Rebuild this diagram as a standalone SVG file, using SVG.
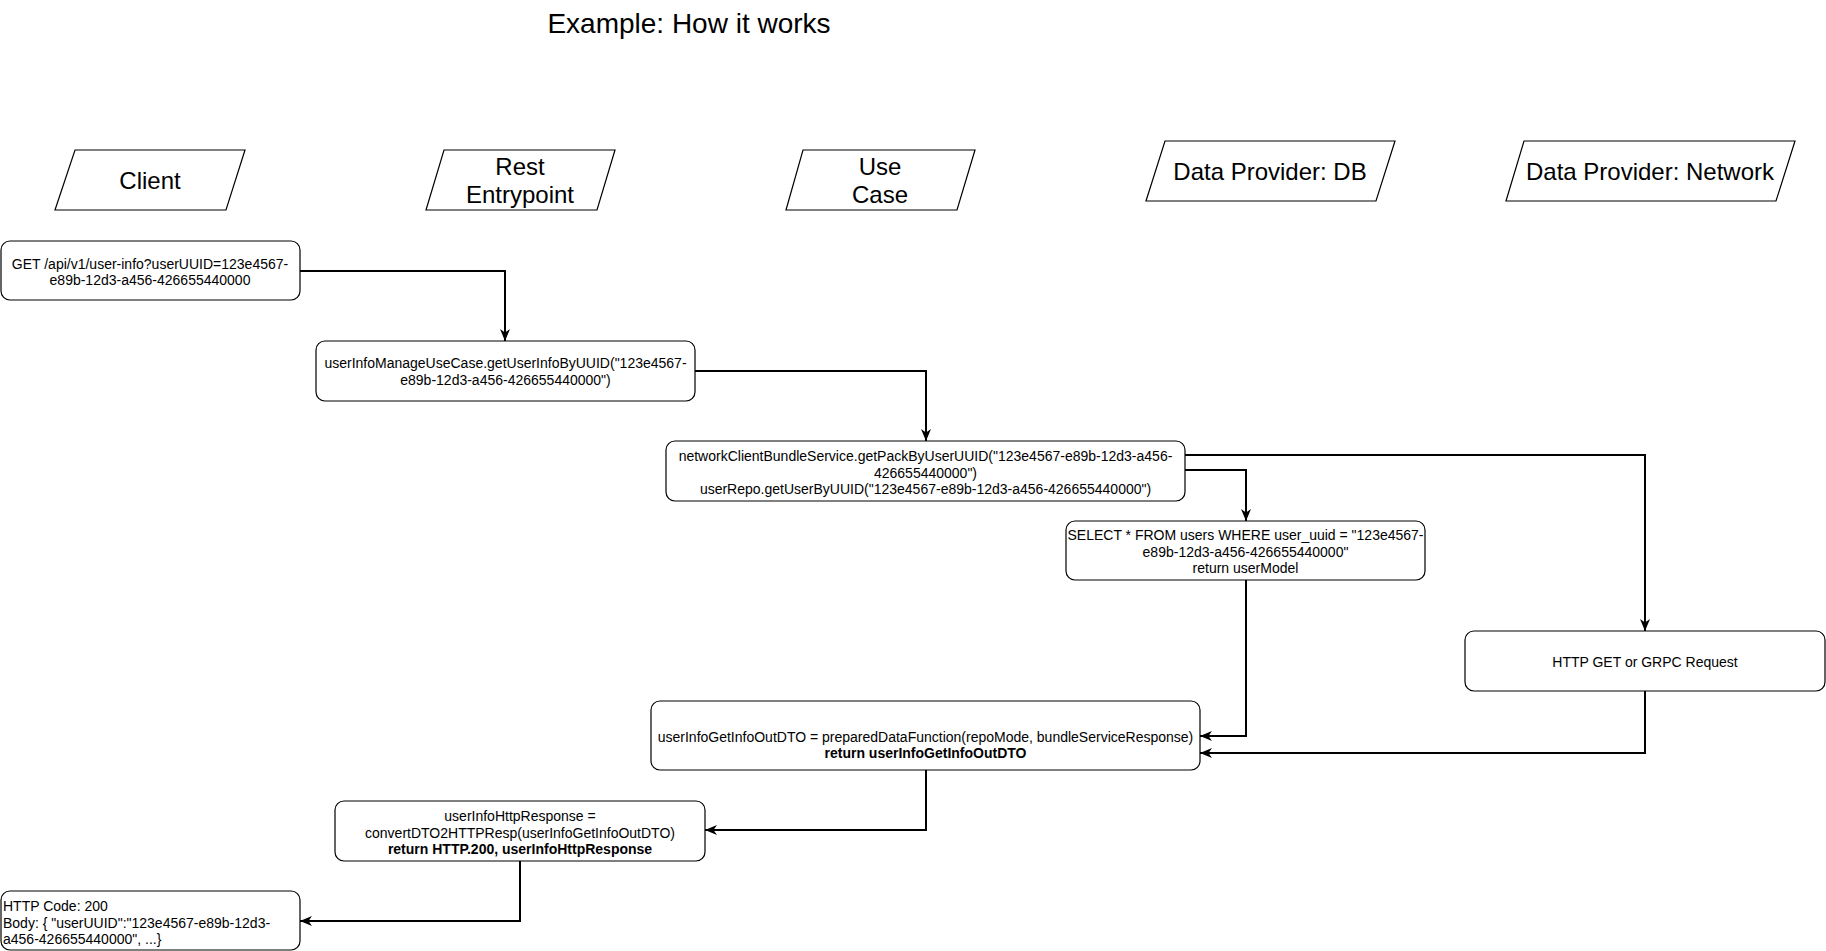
<svg xmlns="http://www.w3.org/2000/svg" width="1826" height="951" viewBox="0 0 1826 951">
  <style>
    .lane { fill: #ffffff; stroke: #000000; stroke-width: 1.2; }
    .box { fill: #ffffff; stroke: #000000; stroke-width: 1.2; }
    .lane-text { font-family: "Liberation Sans", Arial, Helvetica, sans-serif; font-size: 24px; fill: #000000; text-anchor: middle; }
    .t { font-family: "Liberation Sans", Arial, Helvetica, sans-serif; font-size: 14px; fill: #000000; text-anchor: middle; }
    .tl { font-family: "Liberation Sans", Arial, Helvetica, sans-serif; font-size: 14px; fill: #000000; text-anchor: start; }
    .b { font-weight: bold; }
    .title { font-family: "Liberation Sans", Arial, Helvetica, sans-serif; font-size: 28px; fill: #000000; text-anchor: middle; }
    .edge { fill: none; stroke: #000000; stroke-width: 2; }
  </style>
  <defs>
    <marker id="arrow" viewBox="0 0 12 10" refX="12" refY="5" markerWidth="12" markerHeight="10" markerUnits="userSpaceOnUse" orient="auto">
      <path d="M0,0 L12,5 L0,10 L3.5,5 Z" fill="#000000"/>
    </marker>
  </defs>

  <rect width="1826" height="951" fill="#ffffff"/>

  <text class="title" x="689" y="33">Example: How it works</text>

  <!-- Lane headers -->
  <g id="lane-client">
    <polygon class="lane" points="75,150 245,150 226,210 55,210"/>
    <text class="lane-text" x="150" y="189">Client</text>
  </g>
  <g id="lane-rest">
    <polygon class="lane" points="444,150 615,150 597,210 426,210"/>
    <text class="lane-text" x="520" y="175">Rest</text>
    <text class="lane-text" x="520" y="203">Entrypoint</text>
  </g>
  <g id="lane-usecase">
    <polygon class="lane" points="803,150 975,150 957,210 786,210"/>
    <text class="lane-text" x="880" y="175">Use</text>
    <text class="lane-text" x="880" y="203">Case</text>
  </g>
  <g id="lane-db">
    <polygon class="lane" points="1165,141 1395,141 1376,201 1146,201"/>
    <text class="lane-text" x="1270" y="180">Data Provider: DB</text>
  </g>
  <g id="lane-network">
    <polygon class="lane" points="1524,141 1795,141 1776,201 1506,201"/>
    <text class="lane-text" x="1650" y="180">Data Provider: Network</text>
  </g>

  <!-- Steps -->
  <g id="step-request">
    <rect class="box" x="1" y="241" width="299" height="59" rx="9" ry="9"/>
    <text class="t" x="150" y="268.5">GET /api/v1/user-info?userUUID=123e4567-</text>
    <text class="t" x="150" y="285">e89b-12d3-a456-426655440000</text>
  </g>
  <g id="step-usecase-call">
    <rect class="box" x="316" y="341" width="379" height="60" rx="9" ry="9"/>
    <text class="t" x="505.5" y="368">userInfoManageUseCase.getUserInfoByUUID("123e4567-</text>
    <text class="t" x="505.5" y="384.5">e89b-12d3-a456-426655440000")</text>
  </g>
  <g id="step-fetch">
    <rect class="box" x="666" y="441" width="519" height="60" rx="9" ry="9"/>
    <text class="t" x="925.5" y="461">networkClientBundleService.getPackByUserUUID("123e4567-e89b-12d3-a456-</text>
    <text class="t" x="925.5" y="477.5">426655440000")</text>
    <text class="t" x="925.5" y="494">userRepo.getUserByUUID("123e4567-e89b-12d3-a456-426655440000")</text>
  </g>
  <g id="step-db-query">
    <rect class="box" x="1066" y="521" width="359" height="59" rx="9" ry="9"/>
    <text class="t" x="1245.5" y="540">SELECT * FROM users WHERE user_uuid = "123e4567-</text>
    <text class="t" x="1245.5" y="556.5">e89b-12d3-a456-426655440000"</text>
    <text class="t" x="1245.5" y="573">return userModel</text>
  </g>
  <g id="step-network-request">
    <rect class="box" x="1465" y="631" width="360" height="60" rx="9" ry="9"/>
    <text class="t" x="1645" y="666.5">HTTP GET or GRPC Request</text>
  </g>
  <g id="step-prepare-dto">
    <rect class="box" x="651" y="701" width="549" height="69" rx="9" ry="9"/>
    <text class="t" x="925.5" y="741.5">userInfoGetInfoOutDTO = preparedDataFunction(repoMode, bundleServiceResponse)</text>
    <text class="t b" x="925.5" y="758">return userInfoGetInfoOutDTO</text>
  </g>
  <g id="step-http-response">
    <rect class="box" x="335" y="801" width="370" height="60" rx="9" ry="9"/>
    <text class="t" x="520" y="821">userInfoHttpResponse =</text>
    <text class="t" x="520" y="837.5">convertDTO2HTTPResp(userInfoGetInfoOutDTO)</text>
    <text class="t b" x="520" y="854">return HTTP.200, userInfoHttpResponse</text>
  </g>
  <g id="step-client-result">
    <rect class="box" x="1" y="891" width="299" height="59" rx="9" ry="9"/>
    <text class="tl" x="3" y="911">HTTP Code: 200</text>
    <text class="tl" x="3" y="927.5">Body: { "userUUID":"123e4567-e89b-12d3-</text>
    <text class="tl" x="3" y="944">a456-426655440000", ...}</text>
  </g>

  <!-- Connectors -->
  <g id="connectors">
    <path class="edge" d="M300,271 H505 V341" marker-end="url(#arrow)"/>
    <path class="edge" d="M695,371 H926 V441" marker-end="url(#arrow)"/>
    <path class="edge" d="M1185,455 H1645 V631" marker-end="url(#arrow)"/>
    <path class="edge" d="M1185,470 H1246 V521" marker-end="url(#arrow)"/>
    <path class="edge" d="M1246,580 V736 H1200" marker-end="url(#arrow)"/>
    <path class="edge" d="M1645,691 V753 H1200" marker-end="url(#arrow)"/>
    <path class="edge" d="M926,770 V830 H705" marker-end="url(#arrow)"/>
    <path class="edge" d="M520,861 V921 H300" marker-end="url(#arrow)"/>
  </g>
</svg>
